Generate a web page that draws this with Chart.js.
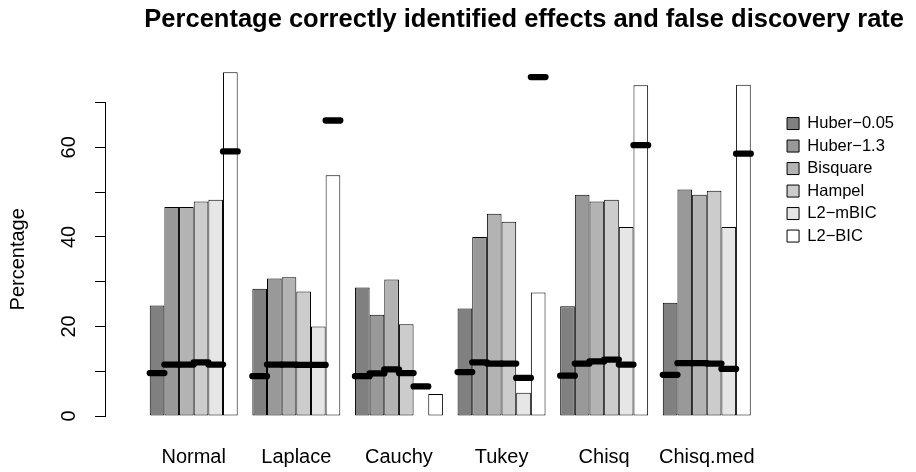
<!DOCTYPE html>
<html>
<head>
<meta charset="utf-8">
<script src="https://cdn.jsdelivr.net/npm/chart.js@4.4.0/dist/chart.umd.min.js"></script>
<style>
    html, body { margin: 0; padding: 0; background: #fff; }
    #wrap { width: 916px; height: 472px; position: relative; }
</style>
</head>
<body>
<div id="wrap"><canvas id="fdr-chart"></canvas></div>
<script>
const categories = ["Normal", "Laplace", "Cauchy", "Tukey", "Chisq", "Chisq.med"];
const methods = ["Huber−0.05", "Huber−1.3", "Bisquare", "Hampel", "L2−mBIC", "L2−BIC"];

// percentage of correctly identified effects, per distribution
const correctHuber005 = [24.7, 28.4, 28.7, 24.0, 24.5, 25.3];
const correctHuber13 = [46.7, 30.7, 22.6, 40.0, 49.4, 50.6];
const correctBisquare = [46.7, 31.0, 30.5, 45.2, 47.9, 49.4];
const correctHampel = [47.9, 27.8, 20.5, 43.4, 48.3, 50.3];
const correctL2mBIC = [48.3, 20.0, 0, 5.2, 42.2, 42.2];
const correctL2BIC = [76.8, 53.8, 4.9, 27.6, 73.9, 74.0];

// false discovery rate (%), null where none is drawn
const fdrHuber005 = [9.6, 8.9, 8.9, 9.8, 9.0, 9.2];
const fdrHuber13 = [11.5, 11.5, 9.5, 12.0, 11.7, 11.8];
const fdrBisquare = [11.5, 11.5, 10.4, 11.7, 12.2, 11.8];
const fdrHampel = [12.0, 11.4, 9.6, 11.7, 12.6, 11.7];
const fdrL2mBIC = [11.5, 11.4, 6.6, 8.5, 11.5, 10.5];
const fdrL2BIC = [59.1, 66.0, null, 75.7, 60.5, 58.6];

const yTickLabels = [0, 20, 40, 60];

(function () {
    const correct = [correctHuber005, correctHuber13, correctBisquare, correctHampel, correctL2mBIC, correctL2BIC];
    const fdr = [fdrHuber005, fdrHuber13, fdrBisquare, fdrHampel, fdrL2mBIC, fdrL2BIC];
    const shades = ["#808080", "#999999", "#b3b3b3", "#cccccc", "#e6e6e6", "#ffffff"];
    const fdrHalf = 0.7; // half thickness of the FDR marks, in percent
    const font = "'Liberation Sans', Arial, Helvetica, sans-serif";

    Chart.defaults.color = "#000";
    Chart.defaults.font.family = font;

    // each method's bar and its FDR mark share one slot in the group
    const barSets = methods.map((m, k) => ({
        label: m,
        stack: "m" + k,
        data: correct[k].map((v, i) => ({ x: i + 1, y: v })),
        backgroundColor: shades[k],
        borderColor: "#000",
        borderWidth: 1,
        borderSkipped: false,
        categoryPercentage: 6 / 7,
        barPercentage: 1,
        order: 1,
        clip: false,
    }));

    const fdrSets = methods.map((m, k) => ({
        label: m + " FDR",
        stack: "m" + k,
        data: fdr[k].map((v, i) => ({ x: i + 1, y: v == null ? null : [v - fdrHalf, v + fdrHalf] })),
        backgroundColor: "#000",
        borderWidth: 0,
        borderRadius: 4,
        borderSkipped: false,
        categoryPercentage: 6 / 7,
        barPercentage: 1.43,
        order: 0,
        clip: false,
    }));

    new Chart(document.getElementById("fdr-chart"), {
        type: "bar",
        data: { datasets: barSets.concat(fdrSets) },
        options: {
            responsive: true,
            maintainAspectRatio: false,
            animation: false,
            layout: { padding: { left: 0, right: 12, top: 0, bottom: 0 } },
            plugins: {
                tooltip: { enabled: false },
                title: {
                    display: true,
                    text: "Percentage correctly identified effects and false discovery rate",
                    align: "end",
                    color: "#000",
                    font: { size: 25.5, weight: "bold" },
                    padding: { top: 5, bottom: 67 },
                },
                legend: {
                    position: "right",
                    align: "start",
                    fullSize: false,
                    title: { display: true, text: "", font: { size: 1 }, padding: { top: 5.5, bottom: 0 } },
                    labels: {
                        filter: (item) => item.datasetIndex < methods.length,
                        font: { size: 16.5 },
                        boxWidth: 12,
                        boxHeight: 12,
                        padding: 6,
                        color: "#000",
                    },
                },
            },
            scales: {
                x: {
                    type: "linear",
                    stacked: true,
                    offset: false,
                    min: 0.1355,
                    max: 6.724,
                    afterBuildTicks: (s) => {
                        s.ticks = categories.map((c, i) => ({ value: i + 1 }));
                    },
                    afterFit: (s) => {
                        s.height = 56;
                        s.paddingLeft = 0;
                        s.paddingRight = 0;
                    },
                    grid: { display: false, drawTicks: false },
                    border: { display: false },
                    ticks: {
                        autoSkip: false,
                        maxRotation: 0,
                        padding: 29.5,
                        font: { size: 20 },
                        callback: (v) => categories[v - 1] ?? "",
                    },
                },
                y: {
                    stacked: false,
                    min: 0,
                    max: 70,
                    afterFit: (s) => {
                        s.width = 105;
                        s.paddingTop = 0;
                        s.paddingBottom = 0;
                    },
                    grid: { display: true, drawOnChartArea: false, drawTicks: true, tickLength: 10, color: "#000" },
                    border: { display: true, color: "#000", width: 1 },
                    ticks: {
                        stepSize: 10,
                        minRotation: 90,
                        maxRotation: 90,
                        crossAlign: "center",
                        padding: 14,
                        font: { size: 20 },
                        callback: (v) => (yTickLabels.includes(v) ? String(v) : ""),
                    },
                    title: {
                        display: true,
                        text: "Percentage",
                        font: { size: 20 },
                        padding: { top: 6, bottom: 0 },
                    },
                },
            },
        },
    });
})();
</script>
</body>
</html>
